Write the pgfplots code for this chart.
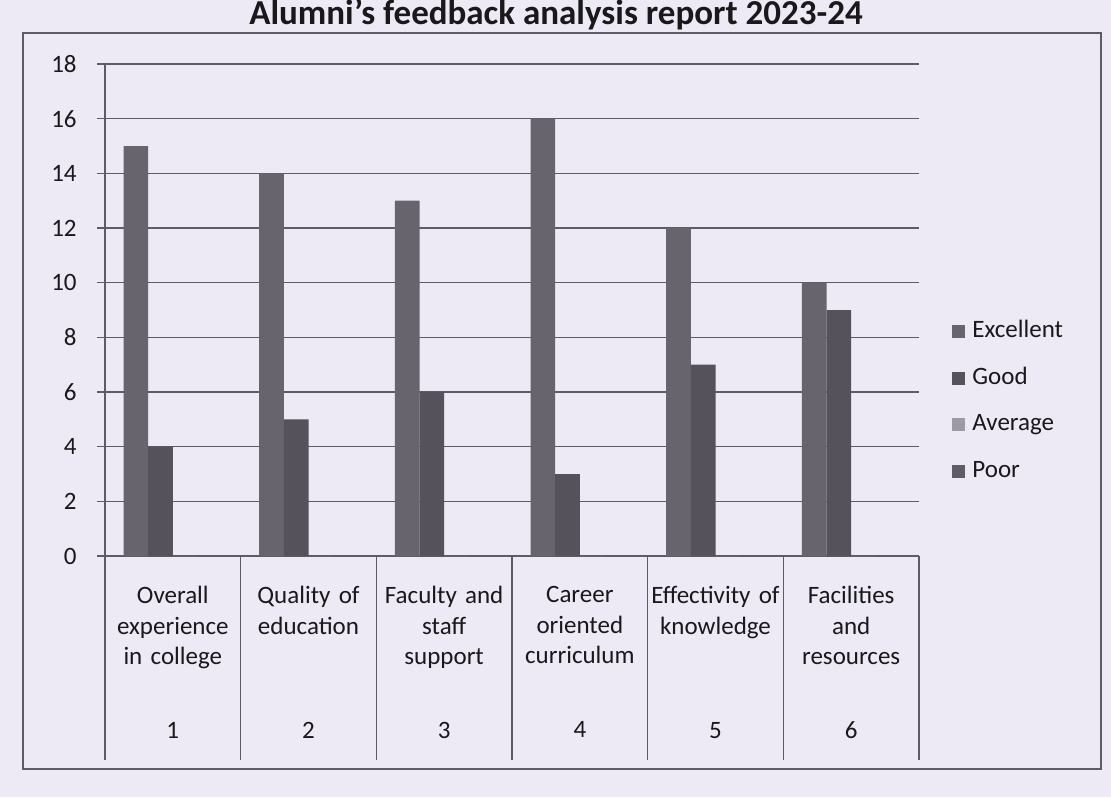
\documentclass[border=0pt]{standalone}
\usepackage{pgfplots}
\usepackage{pgfplotstable}
\pgfplotsset{compat=1.18}
\usepackage{fontspec}
\setmainfont{Carlito}
\definecolor{bgc}{RGB}{237,233,245}
\definecolor{linec}{RGB}{95,91,101}
\definecolor{exc}{RGB}{104,100,109}
\definecolor{goo}{RGB}{86,82,92}
\definecolor{ave}{RGB}{158,154,164}
\definecolor{poo}{RGB}{96,92,102}
\definecolor{txt}{RGB}{25,25,28}
\pgfplotsset{sqleg/.style={legend image code/.code={\fill[##1] (0pt,-3.25pt) rectangle (6.5pt,3.25pt);}}}

\pgfplotstableread{
x exc good avg poor
0.5 15 4 0 0
1.5 14 5 0 0
2.5 13 6 0 0
3.5 16 3 0 0
4.5 12 7 0 0
5.5 10 9 0 0
}\datatable

\begin{document}
\begin{tikzpicture}[x=1pt,y=1pt]
\fill[bgc] (0,0) rectangle (555.5,-398.5);
\path[use as bounding box] (0,0) rectangle (555.5,-398.5);
\draw[linec, line width=0.7pt] (11.5,-16.5) rectangle (550.5,-384.5);
\node[anchor=base, font=\fontsize{17.5}{21}\selectfont\bfseries, text=txt, inner sep=0pt] at (278,-12.5) {Alumni's feedback analysis report 2023-24};
\begin{axis}[
  at={(52.5pt,-278pt)}, anchor=origin,
  scale only axis, width=407pt, height=246pt,
  clip=false,
  ybar=0pt, bar width=0.181818,
  xmin=0, xmax=6, ymin=0, ymax=18,
  axis x line*=bottom, axis y line*=left,
  axis line style={linec, line width=0.7pt},
  ytick={0,2,...,18},
  ymajorgrids, grid style={linec, line width=0.7pt},
  tick align=outside, major tick length=4pt,
  tick style={linec, line width=0.7pt},
  xtick={0.5,1.5,2.5,3.5,4.5,5.5},
  xtick style={draw=none},
  xticklabels={
    {Overall\\experience\\in college\\[21.75pt]1},
    {Quality of\\education\\[37pt]2},
    {Faculty and\\staff\\support\\[21.75pt]3},
    {Career\\oriented\\curriculum\\[21.75pt]4},
    {Effectivity of\\knowledge\\[37pt]5},
    {Facilities\\and\\resources\\[21.75pt]6}},
  xticklabel style={text width=67pt, align=center, anchor=north, inner sep=0pt,
    font=\fontsize{12.5}{15.25}\selectfont, text=txt, yshift=-11pt},
  yticklabel style={font=\fontsize{12.5}{15.25}\selectfont, text=txt, inner sep=0pt, xshift=-10pt},
  /pgf/number format/assume math mode=true,
  legend style={at={(1.0332,0.4898)}, anchor=north west, draw=none, fill=none,
    font=\fontsize{12.5}{15.25}\selectfont, text=txt, row sep=11.35pt,
    nodes={inner sep=0pt, text height=9pt, text depth=3pt},
    /tikz/every odd column/.append style={column sep=3.5pt}},
  legend cell align=left,
]
\addplot[fill=exc, draw=none, sqleg] table[x=x,y=exc]{\datatable};
\addplot[fill=goo, draw=none, sqleg] table[x=x,y=good]{\datatable};
\addplot[fill=ave, draw=none, sqleg] table[x=x,y=avg]{\datatable};
\addplot[fill=poo, draw=none, sqleg] table[x=x,y=poor]{\datatable};
\legend{Excellent,Good,Average,Poor}
\draw[linec, line width=0.7pt] (axis cs:0,0) -- ++(0pt,-102pt);
\draw[linec, line width=0.7pt] (axis cs:1,0) -- ++(0pt,-102pt);
\draw[linec, line width=0.7pt] (axis cs:2,0) -- ++(0pt,-102pt);
\draw[linec, line width=0.7pt] (axis cs:3,0) -- ++(0pt,-102pt);
\draw[linec, line width=0.7pt] (axis cs:4,0) -- ++(0pt,-102pt);
\draw[linec, line width=0.7pt] (axis cs:5,0) -- ++(0pt,-102pt);
\draw[linec, line width=0.7pt] (axis cs:6,0) -- ++(0pt,-102pt);
\end{axis}
\end{tikzpicture}
\end{document}
